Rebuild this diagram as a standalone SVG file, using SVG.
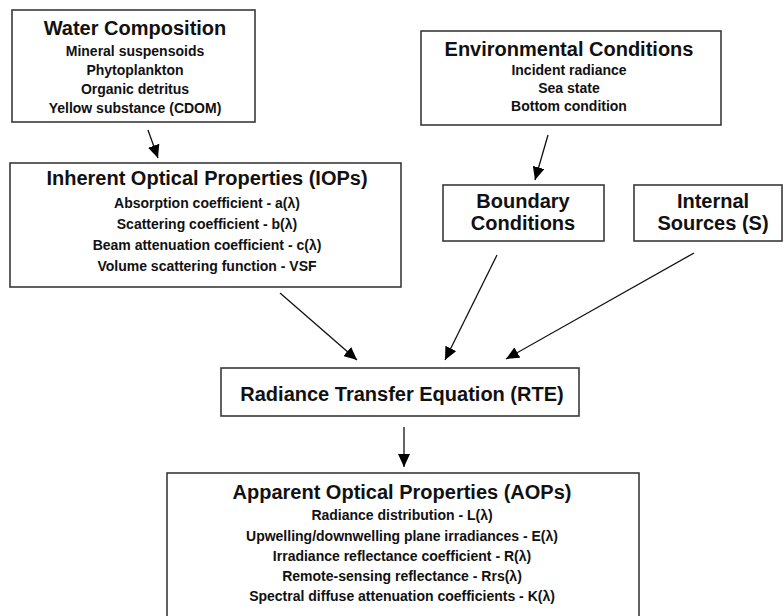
<svg xmlns="http://www.w3.org/2000/svg" width="784" height="616" viewBox="0 0 784 616">
<defs>
<style>
.box{fill:#fff;stroke:#3a3a3a;stroke-width:1.6}
text{font-family:"Liberation Sans",Arial,sans-serif;font-weight:bold;fill:#111;text-anchor:middle}
.t{font-size:20px}
.s{font-size:14px}
.c{stroke:#111;stroke-width:1.3;fill:none}
</style>
<marker id="ah" markerUnits="userSpaceOnUse" markerWidth="14" markerHeight="12" viewBox="0 0 14 12" refX="13" refY="6" orient="auto">
<path d="M0,0 L13,6 L0,12 Z" fill="#000"/>
</marker>
</defs>
<rect width="784" height="616" fill="#fff"/>
<g id="water">
<rect class="box" x="12" y="10" width="243" height="112"/>
<text class="t" x="135" y="35">Water Composition</text>
<text class="s" x="135" y="56">Mineral suspensoids</text>
<text class="s" x="135" y="75">Phytoplankton</text>
<text class="s" x="135" y="94">Organic detritus</text>
<text class="s" x="135" y="113">Yellow substance (CDOM)</text>
</g>
<g id="env">
<rect class="box" x="421" y="31" width="300" height="94"/>
<text class="t" x="569" y="56">Environmental Conditions</text>
<text class="s" x="569" y="75">Incident radiance</text>
<text class="s" x="569" y="93">Sea state</text>
<text class="s" x="569" y="111">Bottom condition</text>
</g>
<g id="iop">
<rect class="box" x="10" y="163" width="391" height="124"/>
<text class="t" x="207" y="185">Inherent Optical Properties (IOPs)</text>
<text class="s" x="207" y="208">Absorption coefficient - a(λ)</text>
<text class="s" x="207" y="229">Scattering coefficient - b(λ)</text>
<text class="s" x="207" y="250">Beam attenuation coefficient - c(λ)</text>
<text class="s" x="207" y="271">Volume scattering function - VSF</text>
</g>
<g id="boundary">
<rect class="box" x="443" y="185" width="161" height="56"/>
<text class="t" x="523" y="208">Boundary</text>
<text class="t" x="523" y="230">Conditions</text>
</g>
<g id="internal">
<rect class="box" x="634" y="185" width="148" height="56"/>
<text class="t" x="713" y="208">Internal</text>
<text class="t" x="713" y="230">Sources (S)</text>
</g>
<g id="rte">
<rect class="box" x="221" y="368" width="358" height="48"/>
<text class="t" x="402" y="401">Radiance Transfer Equation (RTE)</text>
</g>
<g id="aop">
<rect class="box" x="167" y="473" width="472" height="160"/>
<text class="t" x="402" y="499">Apparent Optical Properties (AOPs)</text>
<text class="s" x="402" y="520">Radiance distribution - L(λ)</text>
<text class="s" x="402" y="541">Upwelling/downwelling plane irradiances - E(λ)</text>
<text class="s" x="402" y="561">Irradiance reflectance coefficient - R(λ)</text>
<text class="s" x="402" y="581">Remote-sensing reflectance - Rrs(λ)</text>
<text class="s" x="402" y="601">Spectral diffuse attenuation coefficients - K(λ)</text>
</g>
<g id="connectors">
<line class="c" x1="148" y1="130" x2="158" y2="158" marker-end="url(#ah)"/>
<line class="c" x1="548" y1="135" x2="535" y2="180" marker-end="url(#ah)"/>
<line class="c" x1="280" y1="293" x2="357" y2="360" marker-end="url(#ah)"/>
<line class="c" x1="497" y1="255" x2="445" y2="360" marker-end="url(#ah)"/>
<line class="c" x1="694" y1="253" x2="506" y2="359" marker-end="url(#ah)"/>
<line class="c" x1="404" y1="427" x2="404" y2="467" marker-end="url(#ah)"/>
</g>
</svg>
